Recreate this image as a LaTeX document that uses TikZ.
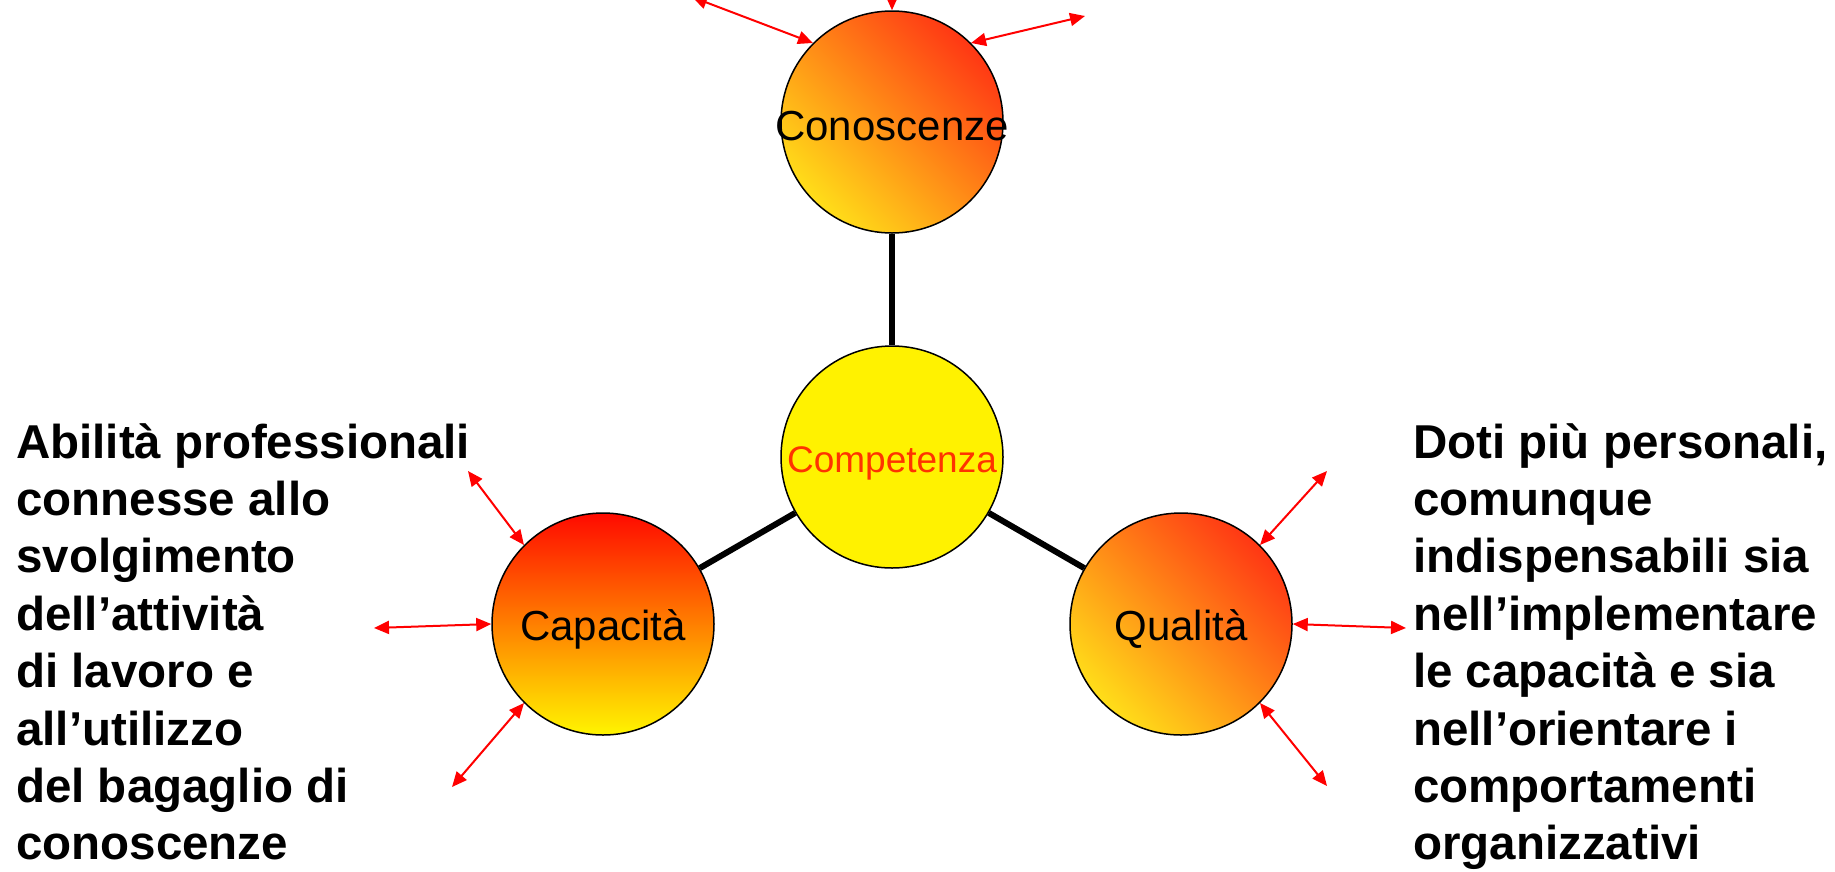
\documentclass[tikz,border=0pt]{standalone}
\usepackage{fontspec}
\setmainfont{Liberation Sans}
\usetikzlibrary{arrows.meta}
\definecolor{compred}{RGB}{255,51,0}
\definecolor{hotred}{RGB}{255,55,20}
\definecolor{warmyel}{RGB}{255,222,25}
\definecolor{capred}{RGB}{255,10,0}
\definecolor{capyel}{RGB}{255,245,0}
\begin{document}
\begin{tikzpicture}[x=1pt,y=-1pt,
  ball/.style={circle,draw=black,line width=1.5pt,minimum size=222pt,inner sep=0pt},
  lbl/.style={inner sep=0pt,font=\fontsize{42}{50}\selectfont,text height=30pt,text depth=0pt},
  diag/.style={top color=hotred,bottom color=warmyel,shading angle=-45},
  vert/.style={top color=capred,bottom color=capyel},
  link/.style={line width=6pt,black},
  rarrow/.style={red,line width=2pt,{Triangle[length=15pt,width=13pt]}-{Triangle[length=15pt,width=13pt]}},
  desc/.style={anchor=base west,inner sep=0pt,font=\fontsize{47.5}{57.4}\selectfont\bfseries}]
\useasboundingbox (0,0) rectangle (1835,871);
\clip (0,0) rectangle (1835,871);

% circles
\node[ball,diag] (con) at (892,122) {};
\node[ball,fill=yellow] (comp) at (892,457) {};
\node[ball,vert] (cap) at (603,624) {};
\node[ball,diag] (qual) at (1181,624) {};

% links
\draw[link] (con) -- (comp);
\draw[link] (comp) -- (cap);
\draw[link] (comp) -- (qual);

% labels
\node[lbl] (conL) at ([yshift=-3pt]con.center) {Conoscenze};
\node[lbl,text=compred,font=\fontsize{37}{44}\selectfont,text height=27pt] (compL) at ([yshift=-2pt]comp.center) {Competenza};
\node[lbl] (capL) at ([yshift=-1pt]cap.center) {Capacità};
\node[lbl] (qualL) at ([yshift=-1pt]qual.center) {Qualità};

% free ends of red arrows
\coordinate (c1) at (692,-3);
\coordinate (c2) at (892,-80);
\coordinate (c3) at (1085,16);
\coordinate (p1) at (468,471);
\coordinate (p2) at (374,628);
\coordinate (p3) at (452,787);
\coordinate (q1) at (1327,471);
\coordinate (q2) at (1406,628);
\coordinate (q3) at (1327,786);

\draw[rarrow] (con.135) -- (c1);
\draw[rarrow] (con.90) -- (c2);
\draw[rarrow] (con.45) -- (c3);
\draw[rarrow] (cap.135) -- (p1);
\draw[rarrow] (cap.180) -- (p2);
\draw[rarrow] (cap.225) -- (p3);
\draw[rarrow] (qual.45) -- (q1);
\draw[rarrow] (qual.0) -- (q2);
\draw[rarrow] (qual.315) -- (q3);

% descriptions
\node[desc] (lt) at (16,458) {\vtop{%
\hbox{Abilità professionali}%
\hbox{connesse allo}%
\hbox{svolgimento}%
\hbox{dell’attività}%
\hbox{di lavoro e}%
\hbox{all’utilizzo}%
\hbox{del bagaglio di}%
\hbox{conoscenze}}};
\node[desc] (rt) at (1413,458) {\vtop{%
\hbox{Doti più personali,}%
\hbox{comunque}%
\hbox{indispensabili sia}%
\hbox{nell’implementare}%
\hbox{le capacità e sia}%
\hbox{nell’orientare i}%
\hbox{comportamenti}%
\hbox{organizzativi}}};
\end{tikzpicture}
\end{document}
